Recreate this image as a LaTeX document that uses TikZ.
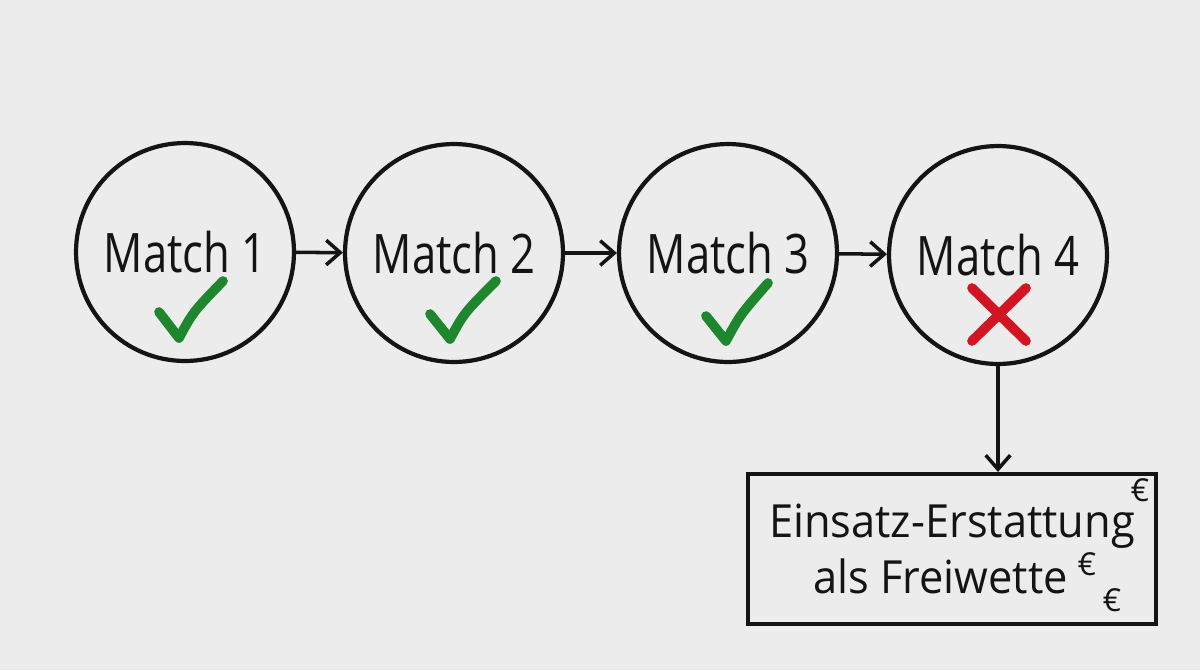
\documentclass[tikz,border=0pt]{standalone}
\usepackage{fontspec}
\setmainfont{Open Sans}
\newfontfamily\handA[FakeStretch=0.80]{Open Sans}
\newfontfamily\handB[FakeStretch=0.95]{Open Sans}
\usetikzlibrary{arrows.meta,calc}
\definecolor{bg}{RGB}{236,236,236}
\definecolor{ink}{RGB}{20,20,20}
\definecolor{okgreen}{RGB}{30,135,45}
\definecolor{nored}{RGB}{210,20,35}
\tikzset{
  matchnode/.style={circle,draw=ink,line width=2.4pt,minimum size=4.36cm,inner sep=0pt,
    font=\handA\fontsize{31}{36}\selectfont,text=ink},
  flow/.style={draw=ink,line width=2pt,-{Straight Barb[length=8pt,width=14pt,line width=2pt]}},
  checkmark/.style={draw=okgreen,line width=5.5pt,line cap=round,line join=round},
  crossmark/.style={draw=nored,line width=5.5pt,line cap=round},
  resultbox/.style={rectangle,draw=ink,line width=2.4pt,minimum width=8.16cm,minimum height=3cm,
    align=center,font=\handB\fontsize{26}{32}\selectfont,text=ink},
  euro/.style={font=\fontsize{18}{18}\selectfont,text=ink,inner sep=0pt}
}
\begin{document}
\begin{tikzpicture}[x=0.02cm,y=-0.02cm]
\fill[bg] (0,0) rectangle (1200,670);
\useasboundingbox (0,0) rectangle (1200,670);
\node[matchnode] (m1) at (185,252) {Match 1};
\node[matchnode] (m2) at (454,253) {Match 2};
\node[matchnode] (m3) at (728,253) {Match 3};
\node[matchnode] (m4) at (998,255) {Match 4};
\draw[flow] (m1) -- (m2);
\draw[flow] (m2) -- (m3);
\draw[flow] (m3) -- (m4);
\node[resultbox] (box) at (952,549) {Einsatz-Erstattung\\als Freiwette\hspace*{0.5em}};
\draw[flow] (m4.south) -- (m4.south |- box.north);
\draw[checkmark] ($(m1)+(-26,60)$) -- ($(m1)+(-6,86)$) .. controls ($(m1)+(8,60)$) .. ($(m1)+(38,29)$);
\draw[checkmark] ($(m2)+(-24,61)$) -- ($(m2)+(-4,86)$) .. controls ($(m2)+(10,60)$) .. ($(m2)+(42,28)$);
\draw[checkmark] ($(m3)+(-22,63)$) -- ($(m3)+(-2,88)$) .. controls ($(m3)+(12,62)$) .. ($(m3)+(40,30)$);
\draw[crossmark] ($(m4)+(-26,33)$) -- ($(m4)+(28,86)$);
\draw[crossmark] ($(m4)+(28,33)$) -- ($(m4)+(-26,86)$);
\node[euro] (e1) at (1140,490) {€};
\node[euro] (e2) at (1087,564) {€};
\node[euro] (e3) at (1112,600) {€};
\end{tikzpicture}
\end{document}
